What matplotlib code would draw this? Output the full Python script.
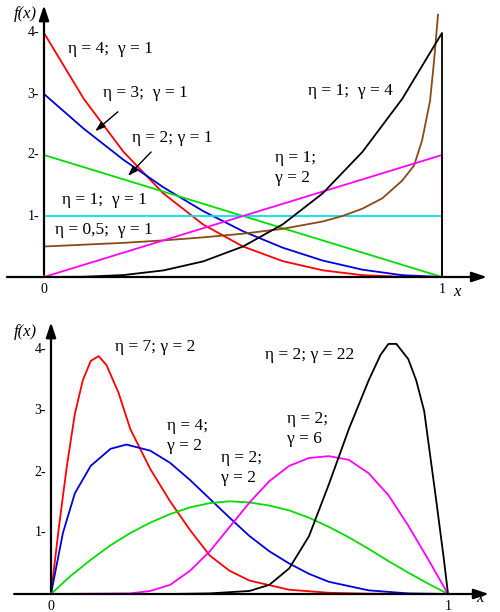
import matplotlib
matplotlib.use('Agg')
import matplotlib.pyplot as plt

plt.rcParams['font.family'] = ['Liberation Serif', 'DejaVu Serif']

# ---- top panel (gamma = 1 and eta = 1 families)
top_x = [0, 0.1, 0.2, 0.3, 0.4, 0.5, 0.6, 0.7, 0.8, 0.9, 1.0]
red_top = [4, 2.92, 2.05, 1.37, 0.86, 0.5, 0.26, 0.11, 0.03, 0.004, 0]
blue_top = [3, 2.43, 1.92, 1.47, 1.08, 0.75, 0.48, 0.27, 0.12, 0.03, 0]
green_top = [2, 1.8, 1.6, 1.4, 1.2, 1.0, 0.8, 0.6, 0.4, 0.2, 0]
cyan_top = [1, 1, 1, 1, 1, 1, 1, 1, 1, 1, 1]
magenta_top = [0, 0.2, 0.4, 0.6, 0.8, 1.0, 1.2, 1.4, 1.6, 1.8, 2.0]
black_top = [0, 0.004, 0.032, 0.108, 0.256, 0.5, 0.864, 1.37, 2.05, 2.92, 4.0]
brown_x = [0, 0.1, 0.2, 0.3, 0.4, 0.5, 0.6, 0.7, 0.75, 0.8, 0.85, 0.9, 0.93, 0.95, 0.97, 0.98, 0.99]
brown_y = [0.5, 0.53, 0.56, 0.6, 0.65, 0.71, 0.79, 0.91, 1.0, 1.12, 1.29, 1.58, 1.83, 2.24, 2.89, 3.54, 4.3]

# ---- bottom panel
red_bx = [0, 0.02, 0.04, 0.06, 0.08, 0.1, 0.12, 0.14, 0.17, 0.2, 0.25, 0.3, 0.35, 0.4, 0.45, 0.5, 0.6, 0.7, 0.8, 1.0]
red_by = [0, 1.1, 2.1, 2.95, 3.5, 3.82, 3.9, 3.75, 3.3, 2.7, 2.05, 1.52, 1.05, 0.63, 0.38, 0.22, 0.07, 0.02, 0.005, 0]
blue_bx = [0, 0.03, 0.06, 0.1, 0.15, 0.19, 0.25, 0.3, 0.35, 0.4, 0.45, 0.5, 0.55, 0.6, 0.65, 0.7, 0.8, 0.9, 1.0]
blue_by = [0, 1.0, 1.65, 2.1, 2.38, 2.45, 2.35, 2.15, 1.87, 1.56, 1.25, 0.95, 0.7, 0.5, 0.33, 0.2, 0.06, 0.01, 0]
green_bx = [0, 0.05, 0.1, 0.15, 0.2, 0.25, 0.3, 0.35, 0.4, 0.45, 0.5, 0.55, 0.6, 0.65, 0.7, 0.75, 0.8, 0.85, 0.9, 0.95, 1.0]
green_by = [0, 0.3, 0.56, 0.8, 1.0, 1.17, 1.31, 1.42, 1.49, 1.52, 1.5, 1.45, 1.37, 1.25, 1.1, 0.93, 0.74, 0.54, 0.35, 0.17, 0]
magenta_bx = [0, 0.2, 0.25, 0.3, 0.35, 0.4, 0.45, 0.5, 0.55, 0.6, 0.65, 0.7, 0.75, 0.8, 0.85, 0.9, 0.95, 1.0]
magenta_by = [0, 0.01, 0.05, 0.15, 0.38, 0.7, 1.1, 1.5, 1.85, 2.1, 2.23, 2.26, 2.2, 1.98, 1.62, 1.12, 0.57, 0]
black_bx = [0, 0.3, 0.4, 0.5, 0.55, 0.6, 0.65, 0.7, 0.75, 0.8, 0.83, 0.85, 0.87, 0.9, 0.92, 0.94, 0.97, 0.99, 1.0]
black_by = [0, 0.0, 0.01, 0.05, 0.15, 0.42, 0.95, 1.8, 2.7, 3.5, 3.92, 4.1, 4.1, 3.85, 3.5, 3.0, 1.55, 0.55, 0]

RED, BLUE, GREEN, CYAN = '#ff0000', '#0000dd', '#00dd00', '#00e5e5'
BROWN, MAGENTA, BLACK = '#8b4a14', '#ff00ff', '#000000'
LW = 1.3

fig = plt.figure(figsize=(5.0, 6.12), dpi=100)
ax1 = fig.add_axes([0, 312 / 612, 1, 300 / 612])
ax2 = fig.add_axes([0, 0, 1, 312 / 612])
ax1.set_xlim(-44 / 398, 456 / 398)
ax1.set_ylim(-23 / 61, 277 / 61)
ax2.set_xlim(-51 / 397, 449 / 397)
ax2.set_ylim(-18 / 61, 294 / 61)
for ax in (ax1, ax2):
    ax.axis('off')


def axes_arrows(ax, xend, yend, xstart):
    ax.annotate('', xy=(xend, 0), xytext=(xstart, 0),
                arrowprops=dict(arrowstyle='-|>,head_length=0.9,head_width=0.3', color='k', lw=1.6))
    ax.annotate('', xy=(0, yend), xytext=(0, 0),
                arrowprops=dict(arrowstyle='-|>,head_length=0.9,head_width=0.3', color='k', lw=1.6))
    for v in [1, 2, 3, 4]:
        ax.text(-0.012, v, '%d-' % v, ha='right', va='center', fontsize=10)
    ax.text(0, -0.1, '0', ha='center', va='top', fontsize=10)
    ax.text(1, -0.1, '1', ha='center', va='top', fontsize=10)


# top panel curves (with vertical edges at the support ends)
ax1.plot([0] + top_x, [0] + red_top, color=RED, lw=LW)
ax1.plot([0] + top_x, [0] + blue_top, color=BLUE, lw=LW)
ax1.plot([0] + top_x, [0] + green_top, color=GREEN, lw=LW)
ax1.plot([0] + top_x + [1], [0] + cyan_top + [0], color=CYAN, lw=LW)
ax1.plot([0] + brown_x, [0] + brown_y, color=BROWN, lw=LW)
ax1.plot(top_x + [1], magenta_top + [0], color=MAGENTA, lw=LW)
ax1.plot(top_x + [1], black_top + [0], color=BLACK, lw=LW)
axes_arrows(ax1, 1.12, 4.5, -0.1)

# bottom panel curves
ax2.plot(red_bx, red_by, color=RED, lw=LW)
ax2.plot(blue_bx, blue_by, color=BLUE, lw=LW)
ax2.plot(green_bx, green_by, color=GREEN, lw=LW)
ax2.plot(magenta_bx, magenta_by, color=MAGENTA, lw=LW)
ax2.plot(black_bx, black_by, color=BLACK, lw=LW)
axes_arrows(ax2, 1.11, 4.5, -0.1)


def label(x, y, s):
    fig.text(x / 500, 1 - y / 612, s, fontsize=12.5, va='center', linespacing=1.35)


fig.text(14 / 500, 1 - 14 / 612, 'f(x)', style='italic', fontsize=12, va='center')
fig.text(14 / 500, 1 - 332 / 612, 'f(x)', style='italic', fontsize=12, va='center')
fig.text(453 / 500, 1 - 292 / 612, 'x', style='italic', fontsize=12, va='center')
fig.text(476 / 500, 1 - 598 / 612, 'x', style='italic', fontsize=12, va='center')

label(68, 49, 'η = 4;  γ = 1')
label(103, 93, 'η = 3;  γ = 1')
label(132, 138, 'η = 2; γ = 1')
label(62, 200, 'η = 1;  γ = 1')
label(55, 230, 'η = 0,5;  γ = 1')
label(308, 91, 'η = 1;  γ = 4')
label(275, 168, 'η = 1;\nγ = 2')

label(115, 347, 'η = 7; γ = 2')
label(167, 436, 'η = 4;\nγ = 2')
label(221, 468, 'η = 2;\nγ = 2')
label(287, 429, 'η = 2;\nγ = 6')
label(265, 355, 'η = 2; γ = 22')

# pointer arrows in the top panel
ax1.annotate('', xy=((93 - 44) / 398, (277 - 133) / 61), xytext=((120 - 44) / 398, (277 - 110) / 61),
             arrowprops=dict(arrowstyle='-|>,head_length=0.6,head_width=0.2', color='k', lw=1))
ax1.annotate('', xy=((126 - 44) / 398, (277 - 178) / 61), xytext=((153 - 44) / 398, (277 - 150) / 61),
             arrowprops=dict(arrowstyle='-|>,head_length=0.6,head_width=0.2', color='k', lw=1))

fig.savefig('out.png', dpi=100, facecolor='white')
